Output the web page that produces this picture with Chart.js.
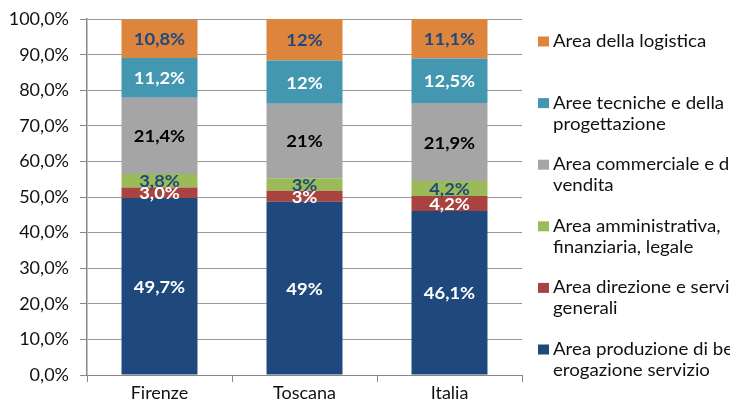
<!DOCTYPE html>
<html><head><meta charset="utf-8">
<script src="https://cdn.jsdelivr.net/npm/chart.js@4/dist/chart.umd.min.js"></script>
<style>html,body{margin:0;padding:0;background:#fff}#wrap{width:730px;height:407px}</style>
</head><body><div id="wrap"><canvas id="c" width="730" height="407"></canvas></div>
<script>
const categories = ["Firenze", "Toscana", "Italia"];
const yTicks = ["0,0%","10,0%","20,0%","30,0%","40,0%","50,0%","60,0%","70,0%","80,0%","90,0%","100,0%"];

const seriesNames = [
  "Area produzione di beni e erogazione servizio",
  "Area direzione e servizi generali",
  "Area amministrativa, finanziaria, legale",
  "Area commerciale e di vendita",
  "Aree tecniche e della progettazione",
  "Area della logistica"
];
const legendLines = [
  ["Area produzione di beni e", "erogazione servizio"],
  ["Area direzione e servizi", "generali"],
  ["Area amministrativa,", "finanziaria, legale"],
  ["Area commerciale e di", "vendita"],
  ["Aree tecniche e della", "progettazione"],
  ["Area della logistica"]
];

const produzione   = [49.7, 48.7, 46.1];
const direzione    = [3.0, 3.1, 4.2];
const amministr    = [3.8, 3.5, 4.2];
const commerciale  = [21.4, 20.9, 21.9];
const tecniche     = [11.2, 12.2, 12.5];
const logistica    = [10.8, 11.6, 11.1];

const produzioneLbl  = ["49,7%", "49%", "46,1%"];
const direzioneLbl   = ["3,0%", "3%", "4,2%"];
const amministrLbl   = ["3,8%", "3%", "4,2%"];
const commercialeLbl = ["21,4%", "21%", "21,9%"];
const tecnicheLbl    = ["11,2%", "12%", "12,5%"];
const logisticaLbl   = ["10,8%", "12%", "11,1%"];

const colors = ["#1F497D", "#A8433F", "#9BBB59", "#A5A5A5", "#4397B0", "#DD843D"];
const labelColors = ["#ffffff", "#ffffff", "#1F497D", "#000000", "#ffffff", "#1F497D"];

const values = [produzione, direzione, amministr, commerciale, tecniche, logistica];
const labels = [produzioneLbl, direzioneLbl, amministrLbl, commercialeLbl, tecnicheLbl, logisticaLbl];

const FONT = "Lato, 'Open Sans', sans-serif";

const datasets = values.map((v, i) => ({
  label: seriesNames[i],
  data: v,
  backgroundColor: colors[i],
  borderWidth: 0,
  categoryPercentage: 1,
  barPercentage: 0.524,
  _lbl: labels[i],
  _lblColor: labelColors[i]
}));

const labelPlugin = {
  id: 'segLabels',
  afterDatasetsDraw(chart) {
    const ctx = chart.ctx;
    ctx.save();
    ctx.font = "bold 17px " + FONT;
    ctx.textAlign = "center";
    ctx.textBaseline = "middle";
    chart.data.datasets.forEach((ds, di) => {
      const meta = chart.getDatasetMeta(di);
      meta.data.forEach((bar, j) => {
        const p = bar.getProps(['x', 'y', 'base'], true);
        ctx.save();
        ctx.translate(p.x, (p.y + p.base) / 2 + 1);
        ctx.scale(1.08, 1);
        ctx.fillStyle = ds._lblColor;
        ctx.fillText(ds._lbl[j], 0, 0);
        ctx.restore();
      });
    });
    ctx.restore();
  }
};

const legendPlugin = {
  id: 'sideLegend',
  afterDraw(chart) {
    const ctx = chart.ctx;
    ctx.save();
    ctx.font = "17px " + FONT;
    ctx.textBaseline = "middle";
    ctx.textAlign = "left";
    const n = chart.data.datasets.length;
    for (let k = 0; k < n; k++) {
      const di = n - 1 - k;
      const y0 = 41.5 + k * 61.6;
      ctx.fillStyle = chart.data.datasets[di].backgroundColor;
      ctx.fillRect(538, y0 - 5, 11, 10);
      ctx.fillStyle = "#111";
      legendLines[di].forEach((t, li) => {
        ctx.save();
        ctx.translate(553, y0 + li * 21);
        ctx.scale(1.1, 1);
        ctx.fillText(t, 0, 0);
        ctx.restore();
      });
    }
    ctx.restore();
  }
};

new Chart(document.getElementById('c'), {
  type: 'bar',
  data: { labels: categories, datasets },
  options: {
    responsive: false,
    animation: false,
    events: [],
    layout: { padding: { top: 5, right: 208, left: 0, bottom: 0 } },
    plugins: { legend: { display: false }, tooltip: { enabled: false } },
    scales: {
      x: {
        stacked: true,
        offset: true,
        grid: { offset: true, drawOnChartArea: false, drawTicks: true, tickLength: 7, color: "#888" },
        border: { color: "#888", width: 1 },
        ticks: { color: "#111", font: { family: FONT, size: 18 }, padding: 0 },
        afterFit(s) { s.height = 32; }
      },
      y: {
        stacked: true,
        min: 0, max: 100,
        ticks: {
          stepSize: 10,
          color: "#111",
          font: { family: FONT, size: 18, lineHeight: 0.9 },
          padding: 11,
          callback: (v) => yTicks[Math.round(v / 10)]
        },
        grid: { color: "#999", tickLength: 7, tickColor: "#888", drawTicks: true },
        border: { color: "#888", width: 1.5 },
        afterFit(s) { s.width = 87; }
      }
    }
  },
  plugins: [labelPlugin, legendPlugin, {
    id: 'dashGrid',
    beforeDraw(chart) {
      chart.options.scales.y.grid.borderDash = [2, 2];
    }
  }]
});
</script>
</body></html>
